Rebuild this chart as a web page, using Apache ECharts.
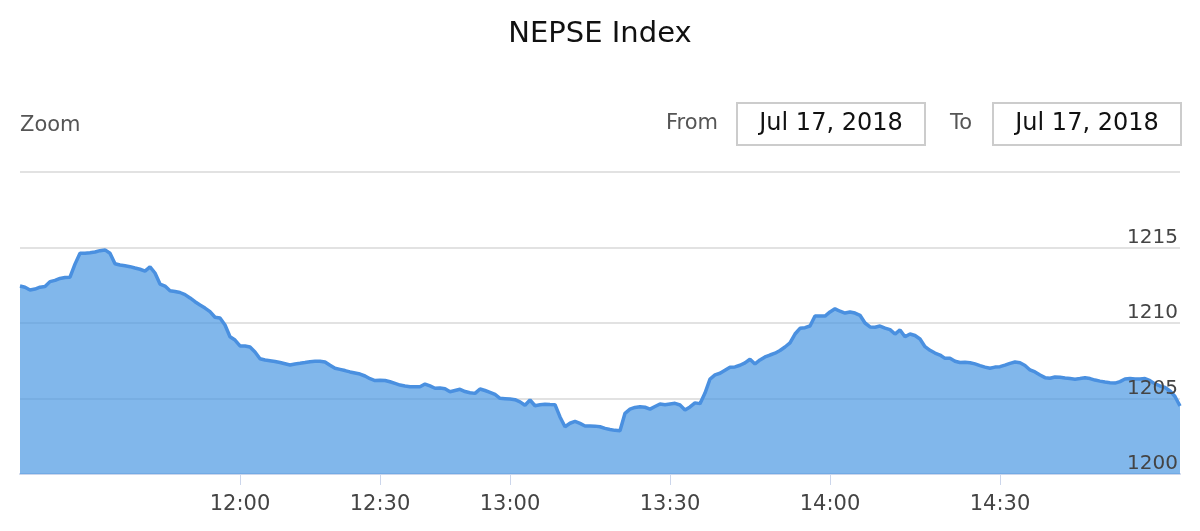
<!DOCTYPE html>
<html>
<head>
<meta charset="utf-8">
<script src="https://cdn.jsdelivr.net/npm/echarts@6/dist/echarts.min.js"></script>
<style>
  html, body { margin: 0; padding: 0; background: #fff; }
  #chart { width: 1200px; height: 531px; }
</style>
</head>
<body>
<div id="chart"></div>
<script>
// Session segments (each starts at the listed time)
const segmentTimes = ['11:00', '12:00', '12:30', '13:00', '13:30', '14:00', '14:30'];
const v1100 = [1212.45, 1212.37, 1212.19, 1212.25, 1212.37, 1212.41, 1212.74, 1212.82, 1212.95, 1213.01,
  1213.03, 1213.9, 1214.62, 1214.62, 1214.65, 1214.70, 1214.79, 1214.84, 1214.62, 1213.92,
  1213.84, 1213.79, 1213.73, 1213.64, 1213.56, 1213.44, 1213.72, 1213.31, 1212.58, 1212.45,
  1212.14, 1212.09, 1212.02, 1211.88, 1211.66, 1211.41, 1211.19, 1210.99, 1210.75, 1210.38,
  1210.33, 1209.87, 1209.09, 1208.87];
const v1200 = [1208.48, 1208.48, 1208.41, 1208.08, 1207.63, 1207.55,
  1207.50, 1207.45, 1207.38, 1207.30, 1207.22, 1207.29, 1207.33, 1207.38, 1207.44, 1207.46,
  1207.47, 1207.42, 1207.20, 1207.00, 1206.93, 1206.85, 1206.76, 1206.69, 1206.62, 1206.49,
  1206.31, 1206.19];
const v1230 = [1206.21, 1206.19, 1206.11, 1206.00, 1205.89, 1205.83, 1205.78, 1205.78,
  1205.78, 1205.96, 1205.83, 1205.68, 1205.70, 1205.65, 1205.45, 1205.53, 1205.61, 1205.46,
  1205.38, 1205.34, 1205.63, 1205.53, 1205.41, 1205.27, 1205.01, 1204.99];
const v1300 = [1204.97, 1204.92,
  1204.78, 1204.55, 1204.90, 1204.52, 1204.58, 1204.62, 1204.60, 1204.59, 1203.78, 1203.13,
  1203.36, 1203.48, 1203.35, 1203.18, 1203.18, 1203.17, 1203.13, 1203.02, 1202.95, 1202.89,
  1202.87, 1204.02, 1204.29, 1204.41, 1204.46, 1204.42, 1204.30, 1204.47, 1204.64, 1204.58];
const v1330 = [1204.64, 1204.68, 1204.57, 1204.24, 1204.44, 1204.71, 1204.66, 1205.36, 1206.29, 1206.56,
  1206.67, 1206.87, 1207.07, 1207.09, 1207.20, 1207.36, 1207.60, 1207.29, 1207.55, 1207.75,
  1207.88, 1208.00, 1208.18, 1208.41, 1208.68, 1209.27, 1209.65, 1209.69, 1209.80, 1210.46,
  1210.46, 1210.46];
const v1400 = [1210.73, 1210.94, 1210.78, 1210.66, 1210.73, 1210.66, 1210.51, 1210.00,
  1209.74, 1209.72, 1209.80, 1209.66, 1209.56, 1209.27, 1209.54, 1209.09, 1209.27, 1209.17,
  1208.94, 1208.43, 1208.19, 1208.01, 1207.88, 1207.66, 1207.66, 1207.47, 1207.38, 1207.40,
  1207.37, 1207.29, 1207.18, 1207.08, 1207.00, 1207.08];
const v1430 = [1207.11, 1207.21, 1207.33, 1207.42,
  1207.37, 1207.19, 1206.89, 1206.76, 1206.56, 1206.38, 1206.34, 1206.42, 1206.41, 1206.36,
  1206.32, 1206.28, 1206.32, 1206.38, 1206.32, 1206.22, 1206.15, 1206.09, 1206.05, 1206.02,
  1206.12, 1206.29, 1206.32, 1206.29, 1206.29, 1206.32, 1206.18, 1205.97, 1205.83, 1205.73,
  1205.50, 1205.13, 1204.50];
const yTicks = [1200, 1205, 1210, 1215, 1220];
const titleText = 'NEPSE Index';
const fromDate = 'Jul 17, 2018';
const toDate = 'Jul 17, 2018';

const segments = [v1100, v1200, v1230, v1300, v1330, v1400, v1430];
const values = [].concat(...segments);
const labelAt = {};
let count = 0;
segments.forEach((seg, k) => {
  if (k > 0) labelAt[count] = segmentTimes[k];
  count += seg.length;
});
const categories = values.map((_, i) => String(i));
const showTick = (i) => Object.prototype.hasOwnProperty.call(labelAt, i);

const FONT = '"DejaVu Sans", "Lucida Grande", sans-serif';
const yMin = yTicks[0];
const yMax = yTicks[yTicks.length - 1];
const chart = echarts.init(document.getElementById('chart'), null, { renderer: 'canvas' });
chart.setOption({
  animation: false,
  title: {
    text: titleText,
    left: 'center',
    top: 15,
    textStyle: { fontFamily: FONT, fontSize: 29, fontWeight: 'normal', color: '#111' }
  },
  graphic: [
    { type: 'text', left: 20, top: 115, style: { text: 'Zoom', font: '21px ' + FONT, fill: '#555' } },
    { type: 'text', right: 482, top: 113, style: { text: 'From', font: '21px ' + FONT, fill: '#555', align: 'right' } },
    { type: 'rect', shape: { x: 737, y: 103, width: 188, height: 42 }, style: { fill: '#fff', stroke: '#cccccc', lineWidth: 2 } },
    { type: 'text', x: 831, y: 124, style: { text: fromDate, font: '24px ' + FONT, fill: '#111', align: 'center', verticalAlign: 'middle' } },
    { type: 'text', left: 950, top: 113, style: { text: 'To', font: '21px ' + FONT, fill: '#555' } },
    { type: 'rect', shape: { x: 993, y: 103, width: 188, height: 42 }, style: { fill: '#fff', stroke: '#cccccc', lineWidth: 2 } },
    { type: 'text', x: 1087, y: 124, style: { text: toDate, font: '24px ' + FONT, fill: '#111', align: 'center', verticalAlign: 'middle' } }
  ],
  grid: { left: 20, right: 20, top: 172, bottom: 57 },
  xAxis: {
    type: 'category',
    data: categories,
    boundaryGap: false,
    axisLine: { show: true, lineStyle: { color: '#ccd6eb', width: 2 } },
    axisTick: { show: true, interval: showTick, length: 11, lineStyle: { color: '#ccd6eb', width: 1 } },
    axisLabel: {
      interval: showTick,
      formatter: (v, i) => labelAt[i] || '',
      fontFamily: FONT, fontSize: 21, color: '#444', margin: 20
    },
    splitLine: { show: false }
  },
  yAxis: [{
    type: 'value',
    position: 'right',
    min: yMin, max: yMax, interval: 5,
    axisLine: { show: false },
    axisTick: { show: false },
    axisLabel: { show: false },
    splitLine: { show: true, lineStyle: { color: '#e2e2e2', width: 2 } },
    z: 0
  }, {
    type: 'value',
    position: 'right',
    min: yMin, max: yMax, interval: 5,
    axisLine: { show: false },
    axisTick: { show: false },
    splitLine: { show: false },
    axisLabel: {
      inside: true,
      margin: 2,
      verticalAlign: 'bottom',
      showMaxLabel: false,
      fontFamily: FONT, fontSize: 20, color: '#444',
      formatter: (v) => (v === yMax ? '' : String(v))
    },
    z: 10
  }],
  series: [{
    type: 'line',
    yAxisIndex: 0,
    data: values,
    showSymbol: false,
    symbol: 'none',
    lineStyle: { color: '#4a90e0', width: 3.5 },
    areaStyle: { color: 'rgba(75,153,227,0.7)', opacity: 1 },
    z: 2
  }]
});
</script>
</body>
</html>
